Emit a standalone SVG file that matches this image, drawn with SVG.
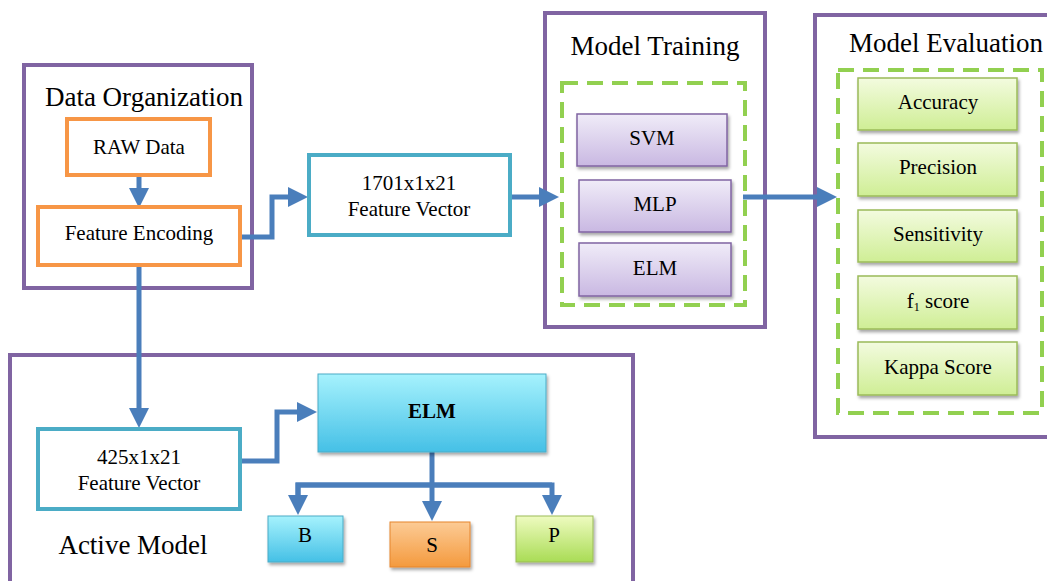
<svg xmlns="http://www.w3.org/2000/svg" width="1047" height="581" viewBox="0 0 1047 581">
  <defs>
    <linearGradient id="gPurple" x1="0" y1="0" x2="0" y2="1">
      <stop offset="0" stop-color="#f0ecf8"/>
      <stop offset="1" stop-color="#c9b8e2"/>
    </linearGradient>
    <linearGradient id="gGreen" x1="0" y1="0" x2="0" y2="1">
      <stop offset="0" stop-color="#f3fbdf"/>
      <stop offset="1" stop-color="#cfee95"/>
    </linearGradient>
    <linearGradient id="gCyan" x1="0" y1="0" x2="0" y2="1">
      <stop offset="0" stop-color="#a6f2fd"/>
      <stop offset="1" stop-color="#45c0e6"/>
    </linearGradient>
    <linearGradient id="gOrange" x1="0" y1="0" x2="0" y2="1">
      <stop offset="0" stop-color="#fccb95"/>
      <stop offset="1" stop-color="#f49a3e"/>
    </linearGradient>
    <linearGradient id="gLime" x1="0" y1="0" x2="0" y2="1">
      <stop offset="0" stop-color="#eefbc0"/>
      <stop offset="1" stop-color="#a9dc55"/>
    </linearGradient>
    <filter id="shadow" x="-10%" y="-10%" width="130%" height="140%">
      <feDropShadow dx="1.5" dy="2.5" stdDeviation="1.5" flood-color="#000" flood-opacity="0.35"/>
    </filter>
    <marker id="arrow" markerWidth="4" markerHeight="4" refX="2" refY="2" orient="auto" markerUnits="strokeWidth">
      <path d="M0,0 L4,2 L0,4 z" fill="#4a7ebb"/>
    </marker>
  </defs>
  <style>
    .group { fill: #fff; stroke: #8064a2; stroke-width: 4; }
    .dash { fill: none; stroke: #92d050; stroke-width: 4; stroke-dasharray: 16 9; }
    .orange { fill: #fff; stroke: #f79646; stroke-width: 4; }
    .teal { fill: #fff; stroke: #4bacc6; stroke-width: 4; }
    .purp { fill: url(#gPurple); stroke: #8064a2; stroke-width: 1.5; filter: url(#shadow); }
    .grn { fill: url(#gGreen); stroke: #9bbb59; stroke-width: 1.5; filter: url(#shadow); }
    .cyan { fill: url(#gCyan); stroke: #4bacc6; stroke-width: 1; filter: url(#shadow); }
    .org { fill: url(#gOrange); stroke: #e6852e; stroke-width: 1; filter: url(#shadow); }
    .lime { fill: url(#gLime); stroke: #9bbb59; stroke-width: 1; filter: url(#shadow); }
    .title { font-family: "Liberation Serif", "Times New Roman", serif; font-size: 27px; fill: #000; text-anchor: middle; }
    .lbl { font-family: "Liberation Serif", "Times New Roman", serif; font-size: 21px; fill: #000; text-anchor: middle; }
    .conn { fill: none; stroke: #4a7ebb; stroke-width: 5; stroke-linejoin: miter; }
  </style>

  <!-- group frames -->
  <g id="data-organization">
    <rect class="group" x="24" y="65" width="228" height="223"/>
    <text class="title" x="144" y="106">Data Organization</text>
  </g>
  <g id="model-training">
    <rect class="group" x="545" y="13" width="220" height="314"/>
    <text class="title" x="655" y="55">Model Training</text>
    <rect class="dash" x="562" y="83" width="183" height="222"/>
  </g>
  <g id="model-evaluation">
    <rect class="group" x="815" y="15" width="240" height="422"/>
    <text class="title" x="946" y="52">Model Evaluation</text>
    <rect class="dash" x="838" y="70" width="204" height="343"/>
  </g>
  <g id="active-model">
    <rect class="group" x="10" y="355" width="623" height="240"/>
    <text class="title" x="133" y="554">Active Model</text>
  </g>

  <!-- connectors -->
  <g id="connectors">
    <line class="conn" x1="139" y1="175" x2="139" y2="198" marker-end="url(#arrow)"/>
    <polyline class="conn" points="240,237 272,237 272,197 298,197" marker-end="url(#arrow)"/>
    <line class="conn" x1="510" y1="197" x2="549" y2="197" marker-end="url(#arrow)"/>
    <line class="conn" x1="743" y1="197" x2="827" y2="197" marker-end="url(#arrow)"/>
    <line class="conn" x1="139" y1="265" x2="139" y2="418" marker-end="url(#arrow)"/>
    <polyline class="conn" points="240,461 277,461 277,412 307,412" marker-end="url(#arrow)"/>
    <line class="conn" x1="432" y1="452" x2="432" y2="511" marker-end="url(#arrow)"/>
    <polyline class="conn" points="298,505 298,485 552,485 552,505" marker-end="url(#arrow)"/>
    <polyline class="conn" points="552,485 298,485 298,505" marker-end="url(#arrow)"/>
  </g>

  <!-- nodes -->
  <g id="raw-data">
    <rect class="orange" x="67" y="119" width="143" height="56"/>
    <text class="lbl" x="139" y="154">RAW Data</text>
  </g>
  <g id="feature-encoding">
    <rect class="orange" x="38" y="207" width="202" height="58"/>
    <text class="lbl" x="139" y="240">Feature Encoding</text>
  </g>
  <g id="feature-vector-1701">
    <rect class="teal" x="309" y="155" width="201" height="80"/>
    <text class="lbl" x="409" y="190">1701x1x21</text>
    <text class="lbl" x="409" y="216">Feature Vector</text>
  </g>
  <g id="svm">
    <rect class="purp" x="577" y="114" width="150" height="52"/>
    <text class="lbl" x="652" y="145">SVM</text>
  </g>
  <g id="mlp">
    <rect class="purp" x="579" y="180" width="152" height="52"/>
    <text class="lbl" x="655" y="211">MLP</text>
  </g>
  <g id="elm-train">
    <rect class="purp" x="579" y="243" width="152" height="53"/>
    <text class="lbl" x="655" y="275">ELM</text>
  </g>
  <g id="accuracy">
    <rect class="grn" x="858" y="78" width="159" height="52"/>
    <text class="lbl" x="938" y="109">Accuracy</text>
  </g>
  <g id="precision">
    <rect class="grn" x="858" y="143" width="159" height="53"/>
    <text class="lbl" x="938" y="174">Precision</text>
  </g>
  <g id="sensitivity">
    <rect class="grn" x="858" y="210" width="159" height="52"/>
    <text class="lbl" x="938" y="241">Sensitivity</text>
  </g>
  <g id="f1-score">
    <rect class="grn" x="858" y="276" width="159" height="53"/>
    <text class="lbl" x="938" y="308">f<tspan font-size="12" dy="3">1</tspan><tspan dy="-3"> score</tspan></text>
  </g>
  <g id="kappa-score">
    <rect class="grn" x="858" y="342" width="159" height="53"/>
    <text class="lbl" x="938" y="374">Kappa Score</text>
  </g>
  <g id="feature-vector-425">
    <rect class="teal" x="38" y="429" width="202" height="80"/>
    <text class="lbl" x="139" y="464">425x1x21</text>
    <text class="lbl" x="139" y="490">Feature Vector</text>
  </g>
  <g id="elm-active">
    <rect class="cyan" x="318" y="374" width="228" height="78"/>
    <text class="lbl" x="432" y="418" font-weight="bold">ELM</text>
  </g>
  <g id="class-b">
    <rect class="cyan" x="268" y="516" width="75" height="46"/>
    <text class="lbl" x="305" y="542">B</text>
  </g>
  <g id="class-s">
    <rect class="org" x="390" y="522" width="80" height="45"/>
    <text class="lbl" x="432" y="552">S</text>
  </g>
  <g id="class-p">
    <rect class="lime" x="516" y="516" width="77" height="46"/>
    <text class="lbl" x="554" y="542">P</text>
  </g>
</svg>
